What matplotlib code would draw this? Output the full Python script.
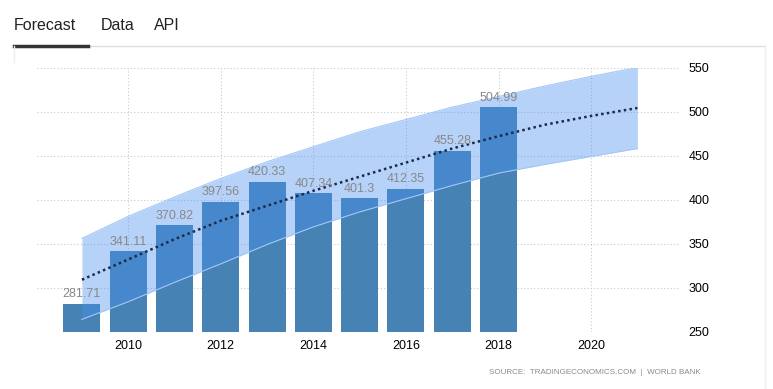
import matplotlib.pyplot as plt
import numpy as np

plt.rcParams['font.family'] = ['Liberation Sans', 'DejaVu Sans']

# donnees historiques
years = [2009, 2010, 2011, 2012, 2013, 2014, 2015, 2016, 2017, 2018]
values = [281.71, 341.11, 370.82, 397.56, 420.33, 407.34, 401.3, 412.35, 455.28, 504.99]

# prevision (tendance + intervalle)
fc_years = [2009, 2010, 2011, 2012, 2013, 2014, 2015, 2016, 2017, 2018, 2019, 2020, 2021]
fc_trend = [309, 332, 355, 376, 393, 410, 426, 442, 458, 472, 485, 495, 504]
fc_upper = [356, 381, 403, 424, 443, 460, 477, 491, 505, 517, 529, 540, 550]
fc_lower = [264, 284, 306, 327, 349, 369, 386, 401, 416, 430, 440, 449, 458]

xticks = [2010, 2012, 2014, 2016, 2018, 2020]
yticks = [250, 300, 350, 400, 450, 500, 550]

W, H = 773, 389
fig = plt.figure(figsize=(W/100, H/100), dpi=100)

ax = fig.add_axes([37/W, 1-331.7/H, 643/W, 264.2/H])
ax.set_xlim(2008.03, 2021.92)
ax.set_ylim(250, 550)

ax.bar(years, [v-250 for v in values], bottom=250, width=0.8, color='#4682b4', zorder=2)
ax.fill_between(fc_years, fc_lower, fc_upper, color='#4a90f0', alpha=0.4, lw=0, zorder=3)
ax.plot(fc_years, fc_upper, color='#a4c8f6', lw=0.8, zorder=3)
ax.plot(fc_years, fc_lower, color='#a4c8f6', lw=0.8, zorder=3)
ax.plot(fc_years, fc_trend, color='#1a2a4a', lw=1.8, ls=(0, (1, 1.3)), zorder=4)

for x, v in zip(years, values):
    ax.text(x, v+4, str(v), ha='center', va='bottom', fontsize=9, color='#888888', zorder=5)

for y in yticks:
    ax.axhline(y, color='#c8c8c8', lw=0.8, ls=(0, (1, 2)), zorder=1)
for x in xticks:
    ax.axvline(x, color='#c8c8c8', lw=0.8, ls=(0, (1, 2)), zorder=1)

ax.set_xticks(xticks)
ax.set_xticklabels([str(x) for x in xticks], fontsize=9)
ax.set_yticks(yticks)
ax.set_yticklabels([str(y) for y in yticks], fontsize=9)
ax.yaxis.tick_right()
ax.tick_params(length=0, pad=6)
for s in ax.spines.values():
    s.set_visible(False)
ax.patch.set_alpha(0)

# onglets du haut
fig.text(14/W, 1-25/H, "Forecast", fontsize=11.5, color='#222222', va='center')
fig.text(101/W, 1-25/H, "Data", fontsize=11.5, color='#222222', va='center')
fig.text(154/W, 1-25/H, "API", fontsize=11.5, color='#222222', va='center')
fig.add_artist(plt.Line2D([14/W, 765/W], [1-46/H, 1-46/H], color='#dddddd', lw=1))
fig.add_artist(plt.Line2D([14/W, 88/W], [1-45.5/H, 1-45.5/H], color='#333333', lw=2.5))
fig.add_artist(plt.Line2D([14/W, 14/W], [1-46/H, 1-62/H], color='#eeeeee', lw=1))
fig.add_artist(plt.Line2D([765/W, 765/W], [1-46/H, 0], color='#eeeeee', lw=1))

fig.text(701/W, 1-373/H, "SOURCE:  TRADINGECONOMICS.COM  |  WORLD BANK",
         fontsize=5.8, color='#8a8a8a', ha='right', va='center')

fig.savefig('out.png', dpi=100)
